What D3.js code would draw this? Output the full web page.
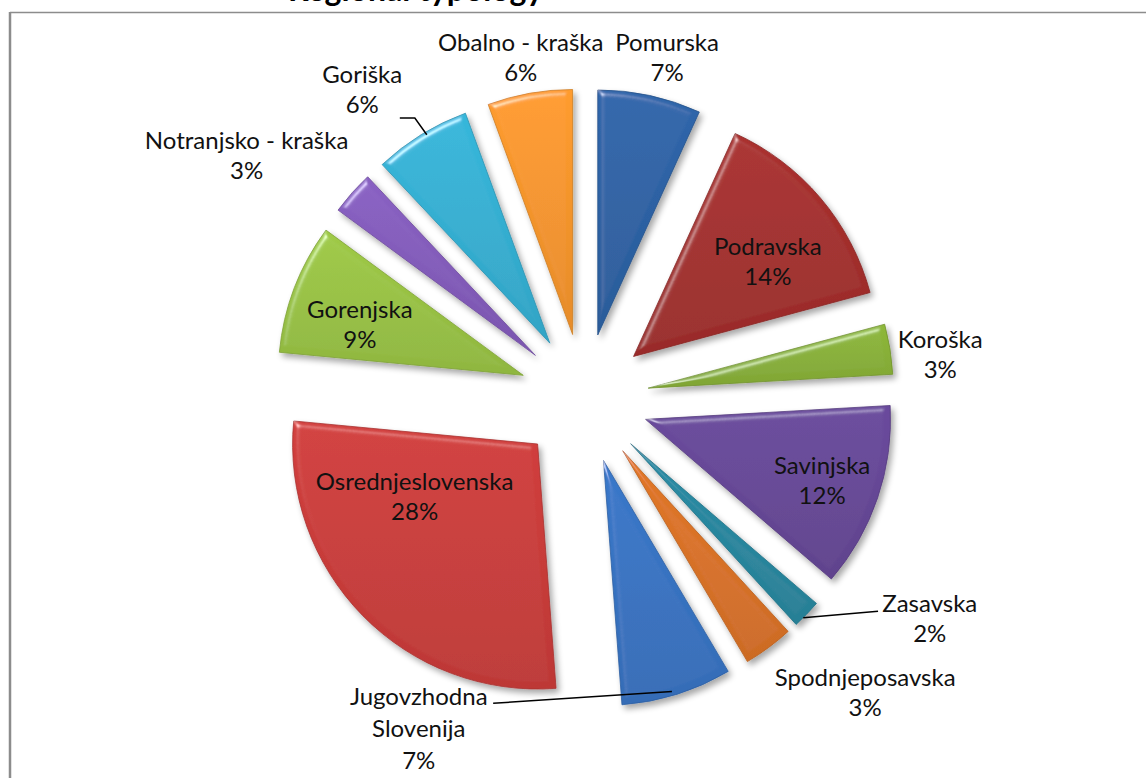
<!DOCTYPE html>
<html>
<head>
<meta charset="utf-8">
<script src="https://cdn.jsdelivr.net/npm/d3@7"></script>
<style>
    body { margin: 0; background: #ffffff; }
    text.lbl {
        font-family: Lato, "Open Sans", sans-serif;
        font-size: 24px;
        fill: #111111;
        text-anchor: middle;
    }
    text.title {
        font-family: Lato, "Open Sans", sans-serif;
        font-size: 32px;
        font-weight: bold;
        fill: #000000;
    }
</style>
</head>
<body>
<svg id="chart" width="1146" height="778"></svg>
<script>
// regions in clockwise order from 12 o'clock
var regions = ["Pomurska", "Podravska", "Koroška", "Savinjska", "Zasavska", "Spodnjeposavska",
               "Jugovzhodna Slovenija", "Osrednjeslovenska", "Gorenjska", "Notranjsko - kraška",
               "Goriška", "Obalno - kraška"];
var shares = [6.8, 14.0, 3.3, 12.2, 1.9, 3.3, 7.3, 27.7, 8.6, 2.9, 6.4, 5.6];
var pctLabels = ["7%", "14%", "3%", "12%", "2%", "3%", "7%", "28%", "9%", "3%", "6%", "6%"];

var colors = ["#2d62a4", "#a32e2c", "#88b038", "#664796", "#28879f", "#d97226",
              "#3773c2", "#c93c3a", "#98c243", "#835cbb", "#34afd2", "#f5952c"];

// label anchor as [angle in degrees clockwise from top, distance from pie centre]
var labelPos = [[13.7, 351], [53.4, 229], [82.9, 359], [109.1, 252], [122.5, 410], [136.3, 407],
                [206.6, 369], [239.8, 196], [288.2, 236], [305.8, 416], [324.3, 380], [349.5, 347]];
// leader lines as polar points
var leaders = {
    4: [[135, 310], [125.9, 363]],
    6: [[163.3, 306], [196.6, 318]],
    10: [[329.2, 307], [328.9, 327.5], [326.7, 335.5]]
};

var svg = d3.select("#chart"),
    cx = 584, cy = 398.5,
    radius = 245,
    explode = 65,
    lineH = 30;

function polar(a, r) {
    var t = a * Math.PI / 180;
    return [cx + r * Math.sin(t), cy - r * Math.cos(t)];
}

// frame and the cut-off title above it (only its descenders show, as in the source)
svg.append("text").attr("class", "title").attr("x", 288).attr("y", 1).text("Regional typology");
svg.append("line").attr("x1", 10).attr("x2", 1146).attr("y1", 12.5).attr("y2", 12.5)
    .attr("stroke", "#8c8c8c").attr("stroke-width", 1.5);
svg.append("line").attr("x1", 10).attr("x2", 10).attr("y1", 12).attr("y2", 778)
    .attr("stroke", "#8c8c8c").attr("stroke-width", 2.5);

var defs = svg.append("defs");

// bevel + drop shadow filter
var f = defs.append("filter").attr("id", "bevel")
    .attr("x", "-20%").attr("y", "-20%").attr("width", "140%").attr("height", "140%");
f.append("feGaussianBlur").attr("in", "SourceAlpha").attr("stdDeviation", 3).attr("result", "blur");
f.append("feSpecularLighting").attr("in", "blur").attr("surfaceScale", 4)
    .attr("specularConstant", 0.7).attr("specularExponent", 40)
    .attr("lighting-color", "#ffffff").attr("result", "spec")
  .append("feDistantLight").attr("azimuth", 235).attr("elevation", 40);
f.append("feComposite").attr("in", "spec").attr("in2", "SourceAlpha").attr("operator", "in").attr("result", "specOut");
f.append("feComposite").attr("in", "SourceGraphic").attr("in2", "specOut").attr("operator", "arithmetic")
    .attr("k1", 0).attr("k2", 1).attr("k3", 0.7).attr("k4", 0).attr("result", "lit");
f.append("feGaussianBlur").attr("in", "SourceAlpha").attr("stdDeviation", 3).attr("result", "sblur");
f.append("feOffset").attr("in", "sblur").attr("dx", 3).attr("dy", 4).attr("result", "soff");
f.append("feComponentTransfer").attr("in", "soff").attr("result", "shadow")
  .append("feFuncA").attr("type", "linear").attr("slope", 0.35);
var merge = f.append("feMerge");
merge.append("feMergeNode").attr("in", "shadow");
merge.append("feMergeNode").attr("in", "lit");

// vertical gradient per slice: a little lighter at top, darker at bottom
colors.forEach(function(c, i) {
    var g = defs.append("linearGradient").attr("id", "grad" + i)
        .attr("x1", 0).attr("y1", 0).attr("x2", 0).attr("y2", 1);
    g.append("stop").attr("offset", "0%").attr("stop-color", d3.color(c).brighter(0.12));
    g.append("stop").attr("offset", "100%").attr("stop-color", d3.color(c).darker(0.18));
});

var pie = d3.pie().sort(null).value(function(d) { return d; });
var arcs = pie(shares);
var arc = d3.arc().innerRadius(0).outerRadius(radius);

svg.append("g").selectAll("path")
    .data(arcs)
    .enter().append("path")
    .attr("d", arc)
    .attr("transform", function(d) {
        var mid = (d.startAngle + d.endAngle) / 2;
        return "translate(" + (cx + explode * Math.sin(mid)) + "," + (cy - explode * Math.cos(mid)) + ")";
    })
    .attr("fill", function(d, i) { return "url(#grad" + i + ")"; })
    .attr("stroke", function(d, i) { return d3.color(colors[i]).darker(0.5); })
    .attr("stroke-width", 0.8)
    .attr("stroke-linejoin", "round")
    .attr("filter", "url(#bevel)");

// leader lines
var line = d3.line();
Object.keys(leaders).forEach(function(k) {
    svg.append("path")
        .attr("d", line(leaders[k].map(function(p) { return polar(p[0], p[1]); })))
        .attr("fill", "none")
        .attr("stroke", "#000000")
        .attr("stroke-width", 1.5);
});

// data labels
svg.append("g").selectAll("text")
    .data(arcs)
    .enter().append("text")
    .attr("class", "lbl")
    .each(function(d, i) {
        var p = polar(labelPos[i][0], labelPos[i][1]);
        var lines = regions[i] === "Jugovzhodna Slovenija" ? ["Jugovzhodna", "Slovenija"] : [regions[i]];
        lines.push(pctLabels[i]);
        var h = lines.length > 2 ? 32 : lineH;
        var top = p[1] - (lines.length - 1) * h / 2;
        var t = d3.select(this);
        lines.forEach(function(s, j) {
            t.append("tspan").attr("x", p[0]).attr("y", top + j * h).attr("dy", "0.35em").text(s);
        });
    });
</script>
</body>
</html>
